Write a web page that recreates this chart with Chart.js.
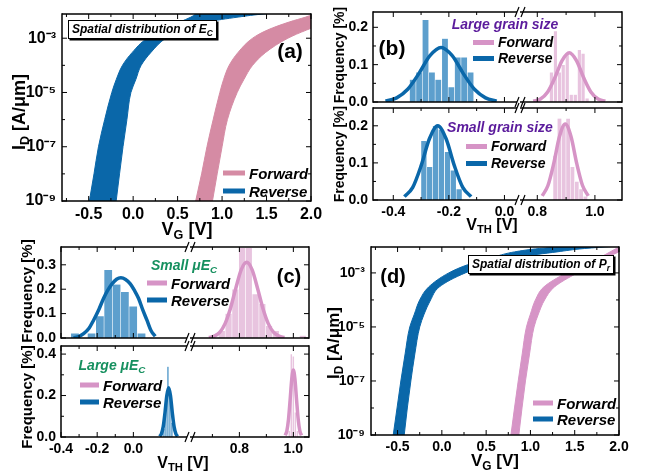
<!DOCTYPE html>
<html>
<head>
<meta charset="utf-8">
<title>Threshold voltage variation</title>
<script src="https://cdn.jsdelivr.net/npm/chart.js@4.4.1/dist/chart.umd.min.js"></script>
<style>
  html, body { margin: 0; padding: 0; background: #fff; }
  #page { position: relative; width: 660px; height: 474px; overflow: hidden;
          font-family: "Liberation Sans", Arial, sans-serif; font-weight: bold; color: #000; }
  canvas { position: absolute; }
  .t { position: absolute; white-space: nowrap; line-height: 1; transform: translate(-50%, -50%); }
  .rot { transform: translate(-50%, -50%) rotate(-90deg); }
  .sub { font-size: 70%; position: relative; top: 0.3em; }
  .leg { position: absolute; white-space: nowrap; line-height: 1; font-style: italic;
         display: flex; align-items: center; transform: translateY(-50%); }
  .leg i { display: inline-block; width: 21px; height: 5px; margin-right: 4px; }
  .note { position: absolute; white-space: nowrap; font-style: italic; font-size: 12px; line-height: 1;
          border: 1px solid #000; box-shadow: 1.5px 1.5px 0 #000; background: #fff; padding: 2px 3px 3px 3px; }
  .purple { color: #5b1b9c; font-style: italic; font-size: 14px; }
  .green { color: #16905f; font-style: italic; font-size: 14px; }
</style>
</head>
<body>
<div id="page">
  <canvas id="ca"></canvas>
  <canvas id="cd"></canvas>
  <canvas id="cbTL"></canvas><canvas id="cbTR"></canvas>
  <canvas id="cbBL"></canvas><canvas id="cbBR"></canvas>
  <canvas id="ccTL"></canvas><canvas id="ccTR"></canvas>
  <canvas id="ccBL"></canvas><canvas id="ccBR"></canvas>

  <!-- axis titles -->
  <div class="t rot" style="left:19px;top:112px;font-size:18px">I<span class="sub">D</span> [A/μm]</div>
  <div class="t" style="left:187px;top:229px;font-size:18px">V<span class="sub">G</span> [V]</div>
  <div class="t rot" style="left:339px;top:55px;font-size:14px">Frequency [%]</div>
  <div class="t rot" style="left:339px;top:154px;font-size:14px">Frequency [%]</div>
  <div class="t" style="left:492px;top:225px;font-size:16px">V<span class="sub">TH</span> [V]</div>
  <div class="t rot" style="left:26px;top:291px;font-size:15px">Frequency [%]</div>
  <div class="t rot" style="left:26px;top:397px;font-size:15px">Frequency [%]</div>
  <div class="t" style="left:183px;top:463px;font-size:16px">V<span class="sub">TH</span> [V]</div>
  <div class="t rot" style="left:333px;top:343px;font-size:17px">I<span class="sub">D</span> [A/μm]</div>
  <div class="t" style="left:495px;top:460px;font-size:17px">V<span class="sub">G</span> [V]</div>

  <!-- panel tags -->
  <div class="t" style="left:290px;top:50px;font-size:21px">(a)</div>
  <div class="t" style="left:392px;top:47px;font-size:21px">(b)</div>
  <div class="t" style="left:289px;top:276px;font-size:20px">(c)</div>
  <div class="t" style="left:393px;top:276px;font-size:20px">(d)</div>

  <!-- annotations -->
  <div class="note" style="left:68px;top:20px">Spatial distribution of E<span class="sub">C</span></div>
  <div class="note" style="left:468px;top:255px">Spatial distribution of P<span class="sub">r</span></div>
  <div class="t purple" style="left:505px;top:24px">Large grain size</div>
  <div class="t purple" style="left:500px;top:127px">Small grain size</div>
  <div class="t green" style="left:184px;top:265px">Small μE<span class="sub">C</span></div>
  <div class="t green" style="left:112px;top:365px">Large μE<span class="sub">C</span></div>

  <!-- legends -->
  <div class="leg" style="left:223px;top:173px;font-size:15px"><i style="background:#d58ba4;width:22px"></i>Forward</div>
  <div class="leg" style="left:223px;top:191px;font-size:15px"><i style="background:#0a67a9;width:22px"></i>Reverse</div>
  <div class="leg" style="left:473px;top:42px;font-size:14px"><i style="background:#d694c6"></i>Forward</div>
  <div class="leg" style="left:473px;top:58px;font-size:14px"><i style="background:#0a67a9"></i>Reverse</div>
  <div class="leg" style="left:466px;top:146px;font-size:14px"><i style="background:#d694c6"></i>Forward</div>
  <div class="leg" style="left:466px;top:163px;font-size:14px"><i style="background:#0a67a9"></i>Reverse</div>
  <div class="leg" style="left:147px;top:283px;font-size:15px"><i style="background:#d694c6;width:20px"></i>Forward</div>
  <div class="leg" style="left:147px;top:300px;font-size:15px"><i style="background:#0a67a9;width:20px"></i>Reverse</div>
  <div class="leg" style="left:80px;top:385px;font-size:15px"><i style="background:#d694c6;width:19px"></i>Forward</div>
  <div class="leg" style="left:80px;top:402px;font-size:15px"><i style="background:#0a67a9;width:19px"></i>Reverse</div>
  <div class="leg" style="left:533px;top:403px;font-size:15px"><i style="background:#d694c6;width:20px"></i>Forward</div>
  <div class="leg" style="left:533px;top:419px;font-size:15px"><i style="background:#0a67a9;width:20px"></i>Reverse</div>
</div>

<script>
// ---------- (a) and (d): I_D - V_G spread ----------
// drain current levels, shared by both edges of every band
const idLevels = [1e-9, 1e-8, 1e-7, 1e-6, 1e-5, 3e-5, 1e-4, 3e-4, 1e-3, 2e-3, 4e-3, 6e-3, 8e-3, 1.2e-2];

// V_G [V] read at each level: left and right edge of the band
const aReverseLeft  = [-0.492, -0.44, -0.39, -0.32, -0.24, -0.19, -0.12, -0.01, 0.16, 0.35, 0.53, 0.65, 0.72, 0.95];
const aReverseRight = [-0.191, -0.153, -0.114, -0.07, -0.025, 0.03, 0.09, 0.2, 0.365, 0.53, 0.84, 1.18, 1.5, 2.3];
const aForwardLeft  = [0.703, 0.77, 0.83, 0.9, 0.975, 1.017, 1.08, 1.18, 1.343, 1.51, 1.76, 1.94, 2.05, 2.25];
const aForwardRight = [0.892, 0.945, 1.0, 1.06, 1.17, 1.245, 1.343, 1.49, 1.74, 1.95, 2.2, 2.4, 2.55, 2.8];

const dReverseLeft  = [-0.549, -0.506, -0.463, -0.415, -0.362, -0.31, -0.25, -0.15, 0.078, 0.29, 0.6, 0.82, 1.1, 1.8];
const dReverseRight = [-0.425, -0.39, -0.35, -0.305, -0.25, -0.2, -0.127, -0.03, 0.265, 0.53, 0.9, 1.3, 1.61, 2.4];
const dForwardLeft  = [0.78, 0.82, 0.862, 0.907, 0.955, 1.0, 1.056, 1.15, 1.403, 1.59, 1.8, 1.9, 1.97, 2.1];
const dForwardRight = [0.869, 0.905, 0.944, 0.99, 1.041, 1.09, 1.16, 1.27, 1.53, 1.72, 1.88, 2.0, 2.1, 2.25];

const vgTicks = [-0.5, 0, 0.5, 1.0, 1.5, 2.0];
const vgMinor = [-0.75, -0.25, 0.25, 0.75, 1.25, 1.75];
const idTicks = [1e-9, 1e-7, 1e-5, 1e-3];
const idMinor = [1e-8, 1e-6, 1e-4];

// ---------- (b): V_TH histograms, grain size ----------
const bTopRevBins = [-0.330, -0.307, -0.284, -0.261, -0.238, -0.214, -0.191, -0.168, -0.145, -0.122];
const bTopRevFreq = [0.06, 0.08, 0.22, 0.08, 0.06, 0.17, 0.04, 0.12, 0.12, 0.08];
const bTopRevFitV = [-0.428, -0.388, -0.348, -0.308, -0.268, -0.228, -0.188, -0.148, -0.108, -0.068, -0.028];
const bTopRevFitF = [0.002, 0.011, 0.034, 0.076, 0.124, 0.146, 0.124, 0.076, 0.034, 0.011, 0.002];
const bTopFwdBins = [0.849, 0.863, 0.877, 0.890, 0.904, 0.918, 0.932, 0.946, 0.959, 0.973];
const bTopFwdFreq = [0.08, 0.19, 0.08, 0.10, 0.13, 0.02, 0.02, 0.14, 0.13, 0.01];
const bTopFwdFitV = [0.786, 0.811, 0.836, 0.861, 0.886, 0.911, 0.936, 0.961, 0.986, 1.011, 1.036];
const bTopFwdFitF = [0.002, 0.008, 0.027, 0.065, 0.111, 0.132, 0.111, 0.065, 0.027, 0.008, 0.002];

const bBotRevBins = [-0.290, -0.269, -0.248, -0.227, -0.205, -0.184, -0.163];
const bBotRevFreq = [0.16, 0.09, 0.20, 0.19, 0.13, 0.08, 0.03];
const bBotRevFitV = [-0.36, -0.33, -0.30, -0.27, -0.24, -0.21, -0.18, -0.15, -0.12];
const bBotRevFitF = [0.009, 0.034, 0.092, 0.165, 0.20, 0.165, 0.092, 0.034, 0.009];
const bBotFwdBins = [0.862, 0.877, 0.892, 0.907, 0.922, 0.937, 0.952, 0.967];
const bBotFwdFreq = [0.12, 0.22, 0.20, 0.22, 0.09, 0.05, 0.03, 0.01];
const bBotFwdFitV = [0.817, 0.837, 0.857, 0.877, 0.897, 0.917, 0.937, 0.957, 0.977];
const bBotFwdFitF = [0.011, 0.039, 0.098, 0.171, 0.205, 0.171, 0.098, 0.039, 0.011];

// ---------- (c): V_TH histograms, muE_C ----------
const cTopRevBins = [-0.323, -0.277, -0.231, -0.185, -0.139, -0.093, -0.047, -0.001, 0.045];
const cTopRevFreq = [0.02, 0.0, 0.02, 0.09, 0.28, 0.22, 0.19, 0.13, 0.02];
const cTopRevFitV = [-0.33, -0.30, -0.275, -0.245, -0.22, -0.19, -0.165, -0.142, -0.118, -0.093, -0.069,
                     -0.043, -0.017, 0.006, 0.029, 0.052, 0.075, 0.098, 0.121];
const cTopRevFitF = [0.0, 0.007, 0.018, 0.04, 0.073, 0.118, 0.162, 0.195, 0.222, 0.241, 0.247,
                     0.24, 0.222, 0.195, 0.162, 0.115, 0.073, 0.03, 0.007];
const cTopFwdBins = [0.735, 0.760, 0.785, 0.810, 0.835, 0.860, 0.885, 0.910, 0.935, 0.960, 0.985, 1.010, 1.035];
const cTopFwdFreq = [0.03, 0.10, 0.20, 0.37, 0.37, 0.18, 0.14, 0.05, 0.03, 0.0, 0.0, 0.0, 0.01];
const cTopFwdFitV = [0.687, 0.707, 0.727, 0.747, 0.767, 0.787, 0.807, 0.827, 0.847, 0.867, 0.887, 0.907, 0.927, 0.947, 0.967];
const cTopFwdFitF = [0.002, 0.008, 0.023, 0.059, 0.122, 0.205, 0.28, 0.31, 0.28, 0.205, 0.122, 0.059, 0.023, 0.008, 0.002];

const cBotRevBins = [0.169, 0.180, 0.191, 0.202, 0.213];
const cBotRevFreq = [0.04, 0.14, 0.34, 0.20, 0.07];
const cBotRevFitV = [0.145, 0.155, 0.165, 0.175, 0.185, 0.195, 0.205, 0.215, 0.225, 0.235, 0.245];
const cBotRevFitF = [0.003, 0.015, 0.05, 0.119, 0.2, 0.237, 0.2, 0.119, 0.05, 0.015, 0.003];
const cBotFwdBins = [0.985, 0.9925, 1.0, 1.0075, 1.015];
const cBotFwdFreq = [0.03, 0.40, 0.39, 0.12, 0.03];
const cBotFwdFitV = [0.97, 0.976, 0.982, 0.988, 0.994, 1.0, 1.006, 1.012, 1.018, 1.024, 1.03];
const cBotFwdFitF = [0.008, 0.03, 0.085, 0.178, 0.278, 0.323, 0.278, 0.178, 0.085, 0.03, 0.008];

const vthTicksB = [-0.4, -0.2, 0.0];
const vthMinorB = [-0.3, -0.1];
const vthTicksR = [0.8, 1.0];
const vthMinorR = [0.7, 0.9];
const freqTicksB = [0, 0.1, 0.2];
const freqMinorB = [0.05, 0.15];
const freqTicksCTop = [0, 0.1, 0.2, 0.3];
const freqTicksCBot = [0, 0.2, 0.4];
const freqMinorCBot = [0.1, 0.3];

const BLUE = '#0a67a9';
const PINK_A = '#d58ba4';
const PINK = '#d694c6';
const BLUE_BAR = '#5d9fcd';
const PINK_BAR = '#e8c4df';

Chart.defaults.font.family = '"Liberation Sans", Arial, sans-serif';
Chart.defaults.font.weight = 'bold';
Chart.defaults.color = '#000';

const SUP = {'-': '\u207b', '0': '\u2070', '1': '\u00b9', '2': '\u00b2', '3': '\u00b3', '4': '\u2074',
             '5': '\u2075', '6': '\u2076', '7': '\u2077', '8': '\u2078', '9': '\u2079'};
const sup = n => String(n).split('').map(c => SUP[c]).join('');

// box with inward ticks on every side, and // marks where an axis is broken
const frame = {
  id: 'frame',
  afterDraw(chart, args, o) {
    const {ctx, chartArea: {left, right, top, bottom}, scales: {x, y}} = chart;
    const seg = (x1, y1, x2, y2) => { ctx.beginPath(); ctx.moveTo(x1, y1); ctx.lineTo(x2, y2); ctx.stroke(); };
    const inX = v => v >= x.min && v <= x.max;
    const inY = v => v >= y.min && v <= y.max;
    ctx.save();
    ctx.strokeStyle = '#000';
    ctx.lineWidth = 1;
    [...(o.xMajor || []).map(v => [v, 5]), ...(o.xMinor || []).map(v => [v, 3])].forEach(([v, len]) => {
      if (!inX(v)) return;
      const px = x.getPixelForValue(v);
      seg(px, bottom, px, bottom - len);
      seg(px, top, px, top + len);
    });
    [...(o.yMajor || []).map(v => [v, 5]), ...(o.yMinor || []).map(v => [v, 3])].forEach(([v, len]) => {
      if (!inY(v)) return;
      const py = y.getPixelForValue(v);
      if (o.left !== false) seg(left, py, left + len, py);
      if (o.right !== false) seg(right, py, right - len, py);
    });
    ctx.lineWidth = 1.5;
    const gl = o.breakLeft ? 3 : 0, gr = o.breakRight ? 3 : 0;
    seg(left + gl, top, right - gr, top);
    seg(left + gl, bottom, right - gr, bottom);
    if (o.left !== false) seg(left, top - 0.75, left, bottom + 0.75);
    if (o.right !== false) seg(right, top - 0.75, right, bottom + 0.75);
    if (o.breakRight) {
      ctx.lineWidth = 1.2;
      [top, bottom].forEach(yy => {
        seg(right - 5, yy + 5, right - 1, yy - 5);
        seg(right + 1, yy + 5, right + 5, yy - 5);
      });
    }
    ctx.restore();
  }
};

// size and place a canvas so that its chart area lands on the given box
function mount(id, area, yW) {
  const padT = 20, padR = 16, padL = yW ? 0 : 4, xH = 40;
  const cv = document.getElementById(id);
  cv.width = area.r - area.l + yW + padL + padR;
  cv.height = area.b - area.t + padT + xH;
  cv.style.left = (area.l - yW - padL) + 'px';
  cv.style.top = (area.t - padT) + 'px';
  return {padding: {left: padL, top: padT, right: padR, bottom: 0}, yW, xH};
}

function xAxis(min, max, labels, m, show, size) {
  return {
    type: 'linear', min, max, offset: false,
    afterBuildTicks: s => { s.ticks = labels.map(v => ({value: v})); },
    afterFit: s => { s.height = m.xH; },
    ticks: {display: show, padding: 4, autoSkip: false, maxRotation: 0, font: {size},
            callback: v => v.toFixed(1)},
    grid: {display: false, drawTicks: false, offset: false},
    border: {display: false}
  };
}

function bandChart(id, area, ymax, rev, fwd, pink, tickSize) {
  const m = mount(id, area, 42);
  const pts = xs => xs.map((v, i) => ({x: v, y: idLevels[i]}));
  const edge = (xs, color, fill) => ({
    data: pts(xs), borderColor: color, backgroundColor: color, borderWidth: 1,
    pointRadius: 0, cubicInterpolationMode: 'monotone', fill
  });
  return new Chart(document.getElementById(id), {
    type: 'line',
    data: {datasets: [edge(rev[0], BLUE, false), edge(rev[1], BLUE, '-1'),
                      edge(fwd[0], pink, false), edge(fwd[1], pink, '-1')]},
    options: {
      responsive: false, animation: false, events: [], indexAxis: 'y',
      layout: {padding: m.padding},
      elements: {line: {capBezierPoints: false}},
      plugins: {legend: {display: false}, tooltip: {enabled: false},
                frame: {xMajor: vgTicks, xMinor: vgMinor, yMajor: idTicks, yMinor: idMinor}},
      scales: {
        x: xAxis(-0.8, 2.0, vgTicks, m, true, tickSize),
        y: {
          type: 'logarithmic', position: 'left', min: 1e-9, max: ymax,
          afterBuildTicks: s => { s.ticks = idTicks.map(v => ({value: v})); },
          afterFit: s => { s.width = m.yW; },
          ticks: {padding: 6, font: {size: tickSize}, callback: v => '10' + sup(Math.round(Math.log10(v)))},
          grid: {display: false, drawTicks: false}, border: {display: false}
        }
      }
    },
    plugins: [frame]
  });
}

function histChart(id, area, o) {
  const left = o.side === 'left';
  const m = mount(id, area, left ? 42 : 0);
  const xy = (xs, ys) => xs.map((v, i) => ({x: v, y: ys[i]}));
  return new Chart(document.getElementById(id), {
    type: 'bar',
    data: {datasets: [
      {type: 'line', data: xy(o.fitV, o.fitF), borderColor: o.line, borderWidth: 3.5, pointRadius: 0,
       cubicInterpolationMode: 'monotone', order: 1},
      {type: 'bar', data: xy(o.bins, o.freq), backgroundColor: o.bar, borderColor: 'rgba(255,255,255,0.45)',
       borderWidth: 0.6, barPercentage: 1, categoryPercentage: 1, order: 2}
    ]},
    options: {
      responsive: false, animation: false, events: [],
      layout: {padding: m.padding},
      plugins: {legend: {display: false}, tooltip: {enabled: false},
                frame: {xMajor: o.xTicks, xMinor: o.xMinor, yMajor: o.yTicks, yMinor: o.yMinor,
                        left: left, right: !left, breakRight: left}},
      scales: {
        x: xAxis(o.xr[0], o.xr[1], o.xTicks, m, o.showX, 14),
        y: {
          type: 'linear', position: 'left', min: 0, max: o.ymax, display: left,
          afterBuildTicks: s => { s.ticks = o.yTicks.map(v => ({value: v})); },
          afterFit: s => { s.width = m.yW; },
          ticks: {padding: 5, font: {size: 14}, callback: v => v.toFixed(1)},
          grid: {display: false, drawTicks: false}, border: {display: false}
        }
      }
    },
    plugins: [frame]
  });
}

// (a)
bandChart('ca', {l: 62, t: 14, r: 311, b: 201}, 7.8e-3,
          [aReverseLeft, aReverseRight], [aForwardLeft, aForwardRight], PINK_A, 16);
// (d)
bandChart('cd', {l: 371, t: 247, r: 619, b: 435}, 9.1e-3,
          [dReverseLeft, dReverseRight], [dForwardLeft, dForwardRight], PINK, 14);

// (b)
const bL = {side: 'left', xr: [-0.473, 0.056], xTicks: vthTicksB, xMinor: vthMinorB, line: BLUE, bar: BLUE_BAR};
const bR = {side: 'right', xr: [0.74, 1.094], xTicks: vthTicksR, xMinor: vthMinorR, line: PINK, bar: PINK_BAR};
histChart('cbTL', {l: 373, t: 12, r: 520, b: 102}, {...bL, ymax: 0.241, yTicks: freqTicksB, yMinor: freqMinorB,
          showX: false, bins: bTopRevBins, freq: bTopRevFreq, fitV: bTopRevFitV, fitF: bTopRevFitF});
histChart('cbTR', {l: 520, t: 12, r: 622, b: 102}, {...bR, ymax: 0.241, yTicks: freqTicksB, yMinor: freqMinorB,
          showX: false, bins: bTopFwdBins, freq: bTopFwdFreq, fitV: bTopFwdFitV, fitF: bTopFwdFitF});
histChart('cbBL', {l: 373, t: 108, r: 520, b: 200}, {...bL, ymax: 0.248, yTicks: freqTicksB, yMinor: freqMinorB,
          showX: true, bins: bBotRevBins, freq: bBotRevFreq, fitV: bBotRevFitV, fitF: bBotRevFitF});
histChart('cbBR', {l: 520, t: 108, r: 622, b: 200}, {...bR, ymax: 0.248, yTicks: freqTicksB, yMinor: freqMinorB,
          showX: true, bins: bBotFwdBins, freq: bBotFwdFreq, fitV: bBotFwdFitV, fitF: bBotFwdFitF});

// (c)
const cL = {side: 'left', xr: [-0.4, 0.313], xTicks: vthTicksB, xMinor: vthMinorB, line: BLUE, bar: BLUE_BAR};
const cR = {side: 'right', xr: [0.617, 1.058], xTicks: vthTicksR, xMinor: vthMinorR, line: PINK, bar: PINK_BAR};
histChart('ccTL', {l: 61, t: 247, r: 190, b: 338}, {...cL, ymax: 0.373, yTicks: freqTicksCTop, yMinor: [],
          showX: false, bins: cTopRevBins, freq: cTopRevFreq, fitV: cTopRevFitV, fitF: cTopRevFitF});
histChart('ccTR', {l: 190, t: 247, r: 309, b: 338}, {...cR, ymax: 0.373, yTicks: freqTicksCTop, yMinor: [],
          showX: false, bins: cTopFwdBins, freq: cTopFwdFreq, fitV: cTopFwdFitV, fitF: cTopFwdFitF});
histChart('ccBL', {l: 61, t: 346, r: 190, b: 437}, {...cL, ymax: 0.439, yTicks: freqTicksCBot, yMinor: freqMinorCBot,
          showX: true, bins: cBotRevBins, freq: cBotRevFreq, fitV: cBotRevFitV, fitF: cBotRevFitF});
histChart('ccBR', {l: 190, t: 346, r: 309, b: 437}, {...cR, ymax: 0.439, yTicks: freqTicksCBot, yMinor: freqMinorCBot,
          showX: true, bins: cBotFwdBins, freq: cBotFwdFreq, fitV: cBotFwdFitV, fitF: cBotFwdFitF});
</script>
</body>
</html>
